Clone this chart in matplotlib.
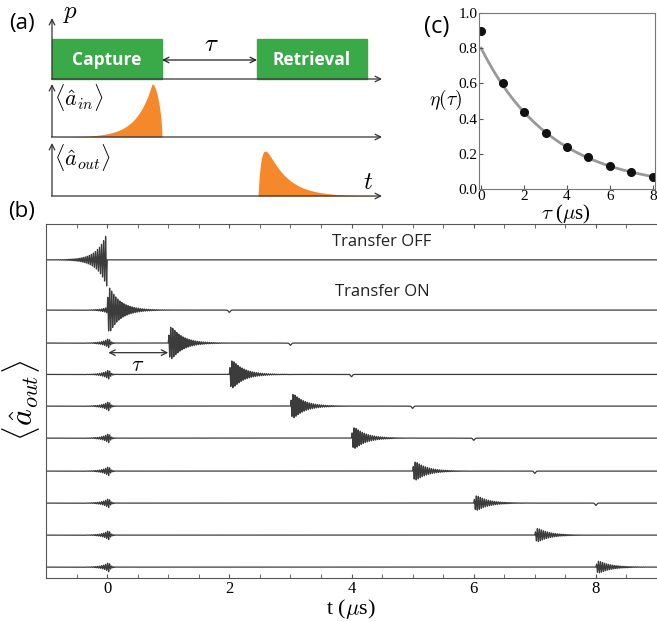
import numpy as np
import matplotlib
matplotlib.use("Agg")
import matplotlib.pyplot as plt

plt.rcParams['mathtext.fontset'] = 'cm'
plt.rcParams['font.family'] = ['Liberation Serif', 'DejaVu Serif']

# ---- panel (b) data: one trace per row, top to bottom ----
labels_b = ["Transfer OFF", "Transfer ON"]
trace_offset = [9.6, 8.03, 7.0, 6.02, 5.03, 4.03, 3.0, 2.0, 1.0, 0.0]
pulse_time = [0, 0, 1, 2, 3, 4, 5, 6, 7, 8]          # us
pulse_amp = [0.86, 0.86, 0.70, 0.60, 0.52, 0.46, 0.40, 0.32, 0.29, 0.26]
leak_amp = [0.0, 0.12, 0.15, 0.15, 0.15, 0.15, 0.15, 0.15, 0.15, 0.15]
dip_time = [None, 2, 3, 4, 5, 6, 7, 8, None, None]

# ---- panel (c) data ----
tau = [0, 1, 2, 3, 4, 5, 6, 7, 8]
eta = [0.90, 0.60, 0.435, 0.32, 0.24, 0.18, 0.13, 0.095, 0.07]
fit_amp, fit_T = 0.80, 3.3

green = '#3aaa48'
orange = '#f5882a'
trace_col = '#3c3c3c'

fig = plt.figure(figsize=(6.57, 6.22), dpi=100)
H = 622.0
W = 657.0

# ================= (b) =================
axb = fig.add_axes([46 / W, 1 - 578 / H, 611 / W, 354 / H])
t = np.linspace(-1, 9, 40000)
f_car = 30.0
for i in range(len(trace_offset)):
    y = np.zeros_like(t)
    t0 = pulse_time[i]
    if i == 0:
        env = np.where(t <= 0, np.exp(t / 0.16), 0.0)
    else:
        s = t - t0
        env = np.where(s >= 0, (1 - np.exp(-s / 0.02)) * np.exp(-s / 0.19), 0.0)
    y += pulse_amp[i] * env * np.sin(2 * np.pi * f_car * (t - t0))
    # leakage wiggle at t=0
    lk = np.where(t <= 0.03, np.exp((t - 0.03) / 0.1), np.exp(-(t - 0.03) / 0.03))
    y += leak_amp[i] * lk * np.sin(2 * np.pi * f_car * t)
    if dip_time[i] is not None:
        y -= 0.07 * np.exp(-((t - dip_time[i]) / 0.02) ** 2)
    axb.plot(t, y + trace_offset[i], color=trace_col, lw=0.9)

axb.set_xlim(-1, 9)
axb.set_ylim(-0.34, 10.72)
axb.set_yticks([])
axb.set_xticks([0, 2, 4, 6, 8])
axb.set_xticks(np.arange(-0.5, 9.0, 0.5), minor=True)
axb.tick_params(axis='x', which='both', direction='in', top=True, labelsize=12,
                length=3, color='#555555', pad=2)
axb.spines['right'].set_visible(False)
for sp in ['left', 'bottom', 'top']:
    axb.spines[sp].set_color('#555555')
fig.text(351 / W, 1 - 609 / H, r't ($\mu$s)', fontsize=16, ha='center', va='center')
fig.text(21 / W, 1 - 400 / H, r'$\langle\hat{a}_{out}\rangle$', fontsize=23,
         rotation=90, ha='center', va='center')

axb.text(4.5, trace_offset[0] + 0.3, labels_b[0], fontsize=12, family='Open Sans',
         ha='center', va='bottom', color='#222222')
axb.text(4.5, trace_offset[1] + 0.3, labels_b[1], fontsize=12, family='Open Sans',
         ha='center', va='bottom', color='#222222')
axb.annotate('', xy=(0.02, trace_offset[2] - 0.3), xytext=(1.0, trace_offset[2] - 0.3),
             arrowprops=dict(arrowstyle='<->', color='#333333', lw=0.9,
                             shrinkA=0, shrinkB=0))
axb.text(0.5, trace_offset[2] - 0.45, r'$\tau$', fontsize=16, ha='center', va='top')

fig.text(22 / W, 1 - 212 / H, '(b)', fontsize=16, family='Open Sans', ha='center', va='center')

# ================= (a) schematic =================
axa = fig.add_axes([0, 1 - 205 / H, 400 / W, 205 / H])
axa.set_xlim(0, 400)
axa.set_ylim(205, 0)
axa.axis('off')

x0, x_end = 52, 382
rows = [(79, 18), (137, 84), (196, 143)]   # baseline y, arrow-top y
for yb, yt in rows:
    axa.annotate('', xy=(x_end, yb), xytext=(x0 - 0.5, yb),
                 arrowprops=dict(arrowstyle='->', color='#333333', lw=0.9,
                                 shrinkA=0, shrinkB=0))
    axa.annotate('', xy=(x0, yt), xytext=(x0, yb),
                 arrowprops=dict(arrowstyle='->', color='#333333', lw=0.9,
                                 shrinkA=0, shrinkB=0))

boxes = [(52, 162, 'Capture'), (257, 367, 'Retrieval')]
for xa, xb, name in boxes:
    axa.add_patch(plt.Rectangle((xa, 39), xb - xa, 40, color=green, zorder=2))
    axa.text((xa + xb) / 2, 60, name, color='white', fontsize=12.5, fontweight='bold',
             family='Open Sans', ha='center', va='center', zorder=3)
axa.annotate('', xy=(162, 60), xytext=(257, 60),
             arrowprops=dict(arrowstyle='<->', color='#222222', lw=0.9,
                             shrinkA=0, shrinkB=0))
axa.text(211, 45, r'$\tau$', fontsize=18, ha='center', va='center')
axa.text(63, 14, r'$p$', fontsize=18, ha='left', va='center')
axa.text(22, 24, '(a)', fontsize=16, family='Open Sans', ha='center', va='center')

# input pulse: rising exponential, abrupt cut
xs = np.linspace(60, 162, 400)
env_in = np.exp((xs - 152) / 16.0)
env_in = np.where(xs > 152, np.clip(np.cos((xs - 152) / 10.0 * np.pi / 2), 0, 1) ** 0.6, env_in)
axa.fill_between(xs, 137, 137 - 53 * env_in, color=orange, lw=0, zorder=2)
axa.text(54, 98, r'$\langle\hat{a}_{in}\rangle$', fontsize=16, ha='left', va='center')

# output pulse: sharp rise, exponential decay
xo = np.linspace(258, 375, 400)
s = xo - 258
env_out = (1 - np.exp(-s / 4.0)) * np.exp(-s / 20.0)
env_out = env_out / env_out.max()
axa.fill_between(xo, 196, 196 - 45 * env_out, color=orange, lw=0, zorder=2)
axa.text(54, 158, r'$\langle\hat{a}_{out}\rangle$', fontsize=16, ha='left', va='center')
axa.text(368, 183, r'$t$', fontsize=18, ha='center', va='center')

# ================= (c) =================
axc = fig.add_axes([479 / W, 1 - 189 / H, 176 / W, 176 / H])
tt = np.linspace(0, 8, 200)
axc.plot(tt, fit_amp * np.exp(-tt / fit_T), color='#999999', lw=2, zorder=1)
axc.plot(tau, eta, 'o', color='#111111', ms=5.5, zorder=2)
axc.set_xlim(-0.1, 8.1)
axc.set_ylim(0, 1.0)
axc.set_xticks([0, 2, 4, 6, 8])
axc.set_yticks([0.0, 0.2, 0.4, 0.6, 0.8, 1.0])
axc.set_yticklabels(['0.0', '0.2', '0.4', '0.6', '0.8', '1.0'])
axc.tick_params(direction='in', labelsize=11, length=3, pad=1, color='#555555')
for sp in axc.spines.values():
    sp.set_color('#777777')
fig.text(566 / W, 1 - 214 / H, r'$\tau$ ($\mu$s)', fontsize=15, ha='center', va='center')
fig.text(446 / W, 1 - 100 / H, r'$\eta(\tau)$', fontsize=14, ha='center', va='center')
fig.text(437 / W, 1 - 27 / H, '(c)', fontsize=17, family='Open Sans', ha='center', va='center')

fig.savefig('out.png', dpi=100)
